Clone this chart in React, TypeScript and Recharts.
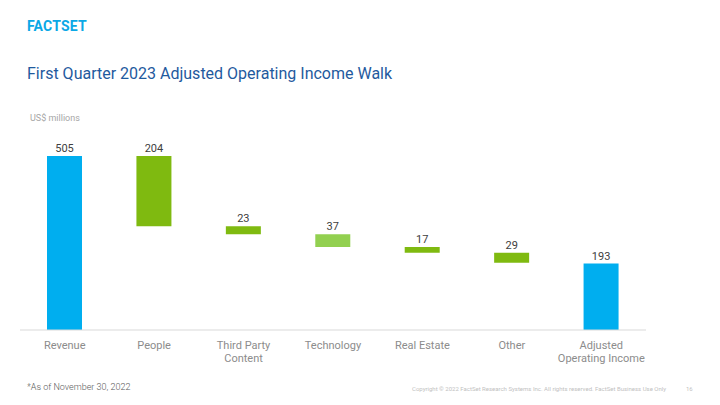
import React from "react";
import { BarChart, Bar, XAxis, YAxis, Cell, LabelList } from "recharts";

const categories = [
  "Revenue",
  "People",
  "Third Party\nContent",
  "Technology",
  "Real Estate",
  "Other",
  "Adjusted\nOperating Income",
];
const baseValues = [0, 301, 278, 241, 224, 195, 0];
const barValues = [505, 204, 23, 37, 17, 29, 193];
const barColors = ["#00AEEF", "#7FBA10", "#7FBA10", "#92D050", "#7FBA10", "#7FBA10", "#00AEEF"];

const data = categories.map((name, i) => ({
  name,
  base: baseValues[i],
  value: barValues[i],
}));

const FONT = "Roboto, 'Noto Sans', sans-serif";

const CategoryTick = (props: any) => {
  const { x, y, payload } = props;
  const lines = String(payload.value).split("\n");
  return (
    <text x={x} y={y + 11} textAnchor="middle" fill="#8C8C8C" fontSize={11} fontFamily={FONT}>
      {lines.map((l: string, i: number) => (
        <tspan key={i} x={x} dy={i === 0 ? 0 : 13}>
          {l}
        </tspan>
      ))}
    </text>
  );
};

export default function App() {
  return (
    <div
      style={{
        position: "absolute",
        left: 0,
        top: 0,
        width: 720,
        height: 405,
        background: "#fff",
        fontFamily: FONT,
        overflow: "hidden",
      }}
    >
      <div
        style={{
          position: "absolute",
          left: 27,
          top: 18,
          color: "#0AA8E6",
          fontSize: 14,
          fontWeight: 700,
          letterSpacing: 0.2,
        }}
      >
        FACTSET
      </div>
      <div style={{ position: "absolute", left: 27, top: 64, color: "#1F5A9E", fontSize: 16 }}>
        First Quarter 2023 Adjusted Operating Income Walk
      </div>
      <div style={{ position: "absolute", left: 30, top: 113, color: "#A6A6A6", fontSize: 9 }}>
        US$ millions
      </div>
      <BarChart
        width={720}
        height={405}
        data={data}
        margin={{ top: 156, right: 74, left: 20, bottom: 0 }}
        barCategoryGap={27}
        style={{ position: "absolute", left: 0, top: 0 }}
      >
        <XAxis
          dataKey="name"
          tickLine={false}
          axisLine={{ stroke: "#D9D9D9" }}
          tick={<CategoryTick />}
          interval={0}
          height={75}
        />
        <YAxis hide domain={[0, 505]} width={0} />
        <Bar dataKey="base" stackId="w" fill="transparent" isAnimationActive={false} />
        <Bar dataKey="value" stackId="w" isAnimationActive={false}>
          {data.map((d, i) => (
            <Cell key={d.name} fill={barColors[i]} />
          ))}
          <LabelList
            dataKey="value"
            position="top"
            offset={4}
            fill="#404040"
            fontSize={11}
            fontFamily={FONT}
          />
        </Bar>
      </BarChart>
      <div
        style={{
          position: "absolute",
          left: 27,
          top: 382,
          color: "#595959",
          fontSize: 9,
          fontWeight: 300,
        }}
      >
        *As of November 30, 2022
      </div>
      <div style={{ position: "absolute", left: 412, top: 385, color: "#BFBFBF", fontSize: 6 }}>
        Copyright © 2022 FactSet Research Systems Inc. All rights reserved. FactSet Business Use Only
      </div>
      <div style={{ position: "absolute", left: 686, top: 385, color: "#BFBFBF", fontSize: 6 }}>
        16
      </div>
    </div>
  );
}
